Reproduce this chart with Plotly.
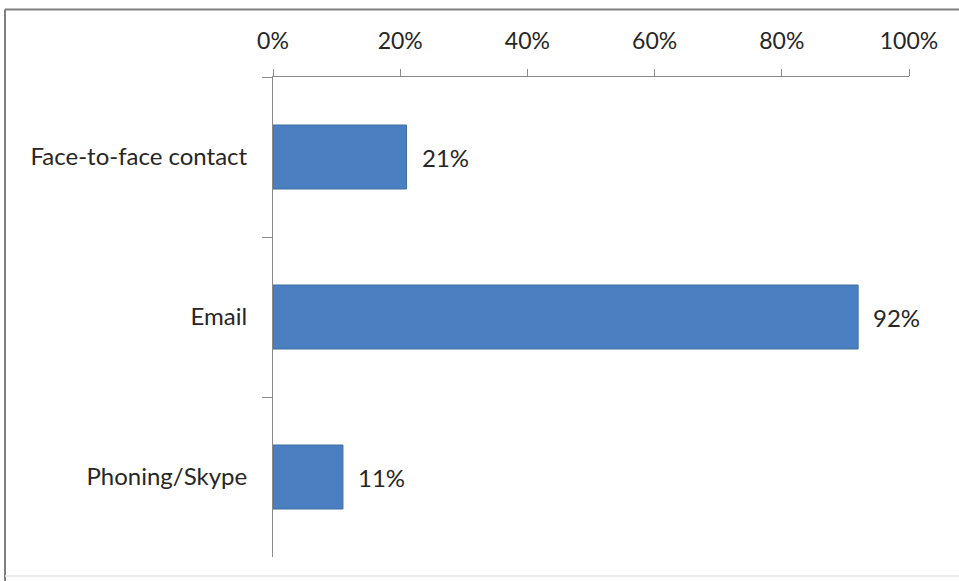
import plotly.graph_objects as go

# Survey: in which form was the contact taken?
categories = ["Face-to-face contact", "Email", "Phoning/Skype"]
shares = [21, 92, 11]  # percent of respondents
x_ticks = [0, 20, 40, 60, 80, 100]
x_tick_labels = ["0%", "20%", "40%", "60%", "80%", "100%"]

FONT = "Lato"
TEXT_COLOR = "#262626"
BAR_FILL = "#4a7fc1"
BAR_EDGE = "#41709f"
AXIS_COLOR = "#8a8a8a"

fig = go.Figure(
    go.Bar(
        x=shares,
        y=categories,
        orientation="h",
        width=0.4,
        marker=dict(color=BAR_FILL, line=dict(color=BAR_EDGE, width=1)),
        hoverinfo="skip",
    )
)

# value labels just right of each bar
for cat, val in zip(categories, shares):
    fig.add_annotation(
        x=val, y=cat, xref="x", yref="y",
        text=f"{val}%", showarrow=False,
        xanchor="left", xshift=13,
        font=dict(family=FONT, size=24, color=TEXT_COLOR),
    )

fig.update_xaxes(
    range=[0, 100],
    side="top",
    tickvals=x_ticks,
    ticktext=x_tick_labels,
    ticks="outside",
    ticklen=7,
    tickcolor=AXIS_COLOR,
    showline=True,
    linecolor=AXIS_COLOR,
    linewidth=1,
    showgrid=False,
    zeroline=False,
    ticklabelstandoff=11,
    tickfont=dict(family=FONT, size=23, color=TEXT_COLOR),
    fixedrange=True,
)

fig.update_yaxes(
    categoryorder="array",
    categoryarray=categories,
    autorange="reversed",
    ticks="outside",
    tickson="boundaries",
    ticklen=10,
    tickcolor=AXIS_COLOR,
    showline=True,
    linecolor=AXIS_COLOR,
    linewidth=1,
    showgrid=False,
    ticklabelstandoff=20,
    tickfont=dict(family=FONT, size=24, color=TEXT_COLOR),
    fixedrange=True,
)

# outer chart frame
L, R, T, B = 273, 909, 77, 557
W, H = 959, 581


def px_x(p):
    return (p - L) / (R - L)


def px_y(p):
    return (B - p) / (B - T)


fig.add_shape(type="line", xref="paper", yref="paper",
              x0=px_x(5), x1=px_x(970), y0=px_y(9.5), y1=px_y(9.5),
              line=dict(color="#7f7f7f", width=2))
fig.add_shape(type="line", xref="paper", yref="paper",
              x0=px_x(5), x1=px_x(5), y0=px_y(9.5), y1=px_y(590),
              line=dict(color="#7f7f7f", width=2))
fig.add_shape(type="line", xref="paper", yref="paper",
              x0=px_x(5), x1=px_x(960), y0=px_y(576), y1=px_y(576),
              line=dict(color="#e6e6e6", width=1.5))

fig.update_layout(
    width=W,
    height=H,
    margin=dict(l=L, r=W - R, t=T, b=H - B),
    paper_bgcolor="white",
    plot_bgcolor="white",
    showlegend=False,
    font=dict(family=FONT, color=TEXT_COLOR),
)

fig.write_html("out.html", config={"displayModeBar": False})
